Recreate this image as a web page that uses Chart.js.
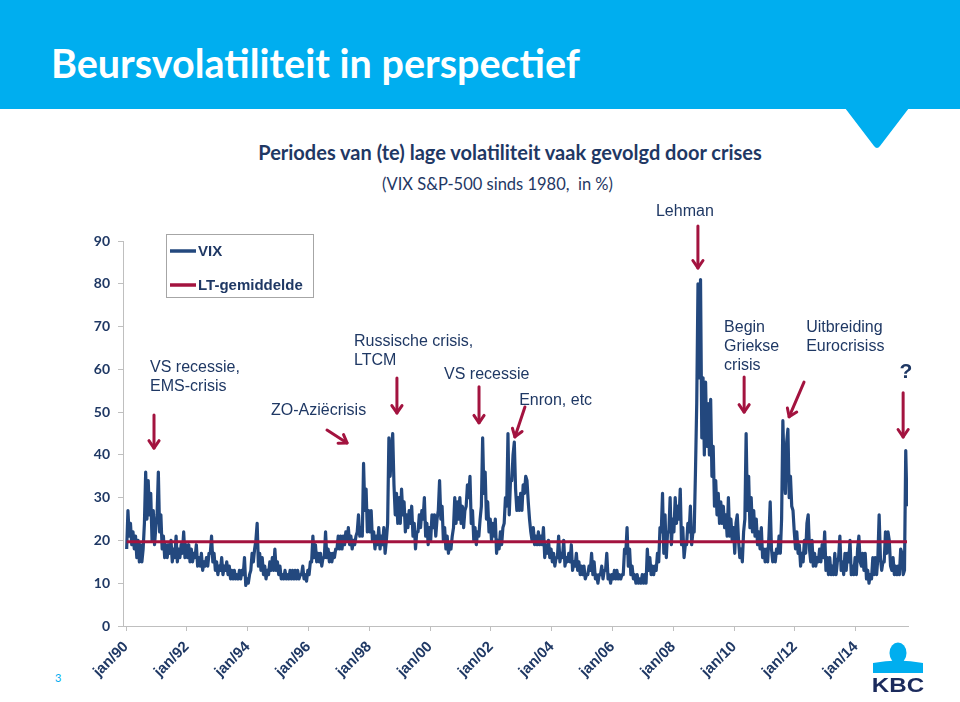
<!DOCTYPE html>
<html>
<head>
<meta charset="utf-8">
<script src="https://cdn.jsdelivr.net/npm/chart.js"></script>
<style>
  html, body { margin: 0; padding: 0; background: #fff; }
  #page { position: relative; width: 960px; height: 702px; overflow: hidden; font-family: 'Liberation Sans', Arial, sans-serif; }
  #banner { position: absolute; left: 0; top: 0; width: 960px; height: 109px; background: #00AEEF; }
  #pointer { position: absolute; left: 0; top: 0; }
  #title { position: absolute; left: 51px; top: 38px; font-family: Lato, sans-serif; font-weight: 700; font-size: 39.5px; line-height: 50px; color: #fff; white-space: nowrap; }
  #subtitle { position: absolute; left: 0; width: 1020px; top: 138px; text-align: center; font-family: Lato, sans-serif; font-weight: 700; font-size: 20px; line-height: 28px; color: #1F3864; white-space: nowrap; }
  #subsub { position: absolute; left: 0; width: 995px; top: 173px; text-align: center; font-family: Lato, sans-serif; font-size: 16.5px; line-height: 22px; color: #1F3864; white-space: nowrap; }
  #pagenr { position: absolute; left: 55px; top: 671px; font-family: Lato, sans-serif; font-size: 11px; color: #00AEEF; }
  #chart { position: absolute; left: 0; top: 0; }
  #logo { position: absolute; left: 868px; top: 640px; }
</style>
</head>
<body>
<div id="page">
  <div id="banner"></div>
  <svg id="pointer" width="960" height="160"><path d="M845 108 L909 108 L880 146 Q877 150 874 146 Z" fill="#00AEEF"/></svg>
  <div id="title">Beursvolatiliteit in perspectief</div>
  <div id="subtitle">Periodes van (te) lage volatiliteit vaak gevolgd door crises</div>
  <div id="subsub">(VIX S&amp;P-500 sinds 1980,&nbsp; in %)</div>
  <div id="pagenr">3</div>
  <canvas id="chart" width="960" height="702"></canvas>
  <svg id="logo" width="60" height="56">
    <ellipse cx="30" cy="13" rx="8.5" ry="10.5" fill="#00AEEF"/>
    <path d="M5 23 Q30 18 55 23 L55 33 L5 33 Z" fill="#00AEEF"/>
    <text x="30" y="52" text-anchor="middle" font-family="Liberation Sans, Arial" font-weight="bold" font-size="21" fill="#1B2A5C" transform="translate(30 0) scale(1.15 1) translate(-30 0)">KBC</text>
  </svg>
</div>
<script>
// VIX, two readings per month (first half, second half)
const vix1990 = [18,27, 21,24, 19,22, 18,21, 16,20, 15,19, 15,18, 24,36, 25,34, 26,31, 20,27, 19,23];
const vix1991 = [26,36, 22,26, 18,21, 16,19, 16,19, 17,20, 15,18, 16,21, 15,18, 16,19, 17,22, 16,19];
const vix1992 = [16,19, 15,18, 15,17, 16,19, 14,16, 14,17, 13,15, 14,16, 14,17, 17,21, 15,17, 13,15];
const vix1993 = [12,14, 13,16, 12,14, 13,15, 12,14, 11,13, 11,13, 11,12, 11,13, 11,13, 12,16, 9.5,11];
const vix1994 = [10,12, 13,17, 15,18, 20,24, 14,17, 13,16, 12,14, 11,13, 12,15, 13,16, 13,18, 13,15];
const vix1995 = [12,14, 11,12, 11,13, 11,12, 11,13, 11,13, 11,13, 11,13, 11,12, 12,14, 11,12, 10.5,13];
const vix1996 = [12,15, 15,21, 16,19, 15,17, 15,17, 14,16, 16,22, 16,18, 15,17, 15,17, 16,18, 18,21];
const vix1997 = [18,21, 18,21, 19,22, 20,23, 19,21, 18,20, 19,21, 22,26, 21,23, 21,38, 27,32, 22,27];
const vix1998 = [22,27, 20,22, 18,21, 19,23, 18,21, 19,23, 17,20, 24,44, 35,41, 45,33, 26,31, 24,30];
const vix1999 = [24,32, 26,29, 22,26, 23,27, 24,28, 21,24, 18,22, 22,26, 23,27, 25,30, 21,24, 19,23];
const vix2000 = [20,26, 23,26, 21,25, 27,34, 25,28, 20,23, 18,21, 17,19, 18,21, 23,30, 24,29, 25,30];
const vix2001 = [24,28, 23,27, 28,33, 30,35, 24,27, 20,23, 19,22, 21,25, 28,44, 31,36, 25,29, 22,25];
const vix2002 = [20,24, 21,25, 17,20, 18,22, 19,23, 24,30, 28,45, 26,34, 34,40, 43,32, 27,30, 27,31];
const vix2003 = [27,33, 31,35, 34,29, 25,22, 20,23, 19,21, 19,22, 19,21, 19,23, 16,19, 17,20, 16,18];
const vix2004 = [15,17, 14,16, 16,21, 15,17, 16,20, 14,16, 15,17, 15,19, 13,15, 14,17, 13,15, 12,14];
const vix2005 = [12,14, 11,12, 12,14, 13,17, 12,15, 11,12, 10,12, 12,14, 11,13, 13,17, 11,12, 10,12];
const vix2006 = [11,13, 11,13, 11,12, 11,12, 12,18, 17,23, 14,18, 12,14, 11,12, 10,12, 10,11, 10,12];
const vix2007 = [10,12, 10,18, 13,16, 12,14, 12,14, 13,17, 15,23, 22,31, 17,26, 16,22, 22,30, 19,25];
const vix2008 = [22,30, 24,28, 25,32, 19,23, 16,19, 19,24, 22,28, 19,22, 22,36, 52,80, 58,81, 44,58];
const vix2009 = [40,57, 42,52, 40,53, 35,42, 28,34, 26,31, 24,29, 24,28, 23,26, 21,30, 21,25, 20,23];
const vix2010 = [17,24, 26,20, 16,18, 15,22, 25,45, 27,35, 23,30, 22,27, 21,25, 19,22, 18,23, 16,18];
const vix2011 = [15,18, 15,21, 29,18, 15,17, 15,18, 17,21, 17,25, 48,36, 31,43, 46,30, 35,28, 27,22];
const vix2012 = [18,22, 17,19, 14,17, 15,20, 17,24, 26,18, 15,20, 14,17, 14,16, 15,18, 15,19, 16,22];
const vix2013 = [13,16, 12,16, 12,14, 12,17, 12,15, 16,21, 13,15, 12,17, 13,17, 15,20, 12,14, 12,16];
const vix2014 = [12,18, 21,15, 14,17, 13,17, 11,13, 10,12, 11,16, 12,16, 12,16, 26,16, 13,15, 15,22];
const vix2015 = [17,22, 20,14, 13,16, 12,14, 12,14, 12,18, 17,12, 13,41, 28];

const ltAverage = 19.7;
const startYear = 1990;
const pointsPerYear = 24;
const tickYears = [1990, 1992, 1994, 1996, 1998, 2000, 2002, 2004, 2006, 2008, 2010, 2012, 2014];
const tickLabels = ['jan/90', 'jan/92', 'jan/94', 'jan/96', 'jan/98', 'jan/00', 'jan/02', 'jan/04', 'jan/06', 'jan/08', 'jan/10', 'jan/12', 'jan/14'];

const vixValues = [].concat(vix1990, vix1991, vix1992, vix1993, vix1994, vix1995, vix1996, vix1997,
  vix1998, vix1999, vix2000, vix2001, vix2002, vix2003, vix2004, vix2005, vix2006, vix2007,
  vix2008, vix2009, vix2010, vix2011, vix2012, vix2013, vix2014, vix2015);
const vixPoints = vixValues.map((v, i) => ({x: startYear + (i + 0.5) / pointsPerYear, y: v}));
const avgPoints = vixPoints.map(p => ({x: p.x, y: ltAverage}));

const navy = '#1F3864';
const crimson = '#A3133F';

// annotation texts and arrows, in chart units (year, value)
const notes = [
  {lines: ['VS recessie,', 'EMS-crisis'], x: 1990.79, y: 60.3},
  {lines: ['ZO-Aziëcrisis'], x: 1994.77, y: 50.3},
  {lines: ['Russische crisis,', 'LTCM'], x: 1997.50, y: 66.6},
  {lines: ['VS recessie'], x: 2000.46, y: 58.7},
  {lines: ['Enron, etc'], x: 2002.93, y: 52.6},
  {lines: ['Lehman'], x: 2007.43, y: 96.8},
  {lines: ['Begin', 'Griekse', 'crisis'], x: 2009.67, y: 69.7},
  {lines: ['Uitbreiding', 'Eurocrisiss'], x: 2012.37, y: 69.7},
  {lines: ['?'], x: 2015.65, y: 59.4, bold: true, center: true}
];
const arrows = [
  [1990.92, 49.3, 1990.92, 41.6],
  [1996.61, 45.8, 1997.27, 42.8],
  [1998.91, 58.0, 1998.91, 49.8],
  [2001.61, 55.9, 2001.61, 47.5],
  [2003.12, 51.2, 2002.79, 44.2],
  [2008.81, 93.5, 2008.81, 83.7],
  [2010.33, 58.2, 2010.33, 50.0],
  [2012.30, 57.0, 2011.81, 48.9],
  [2015.56, 54.5, 2015.56, 44.2]
];

const notesPlugin = {
  id: 'notes',
  afterDraw(chart) {
    const ctx = chart.ctx;
    const xs = chart.scales.x, ys = chart.scales.y;
    ctx.save();
    // legend box
    ctx.fillStyle = '#fff';
    ctx.fillRect(166, 234, 147, 63);
    ctx.strokeStyle = '#A6A6A6';
    ctx.lineWidth = 1;
    ctx.strokeRect(166.5, 234.5, 147, 63);
    const items = [chart.data.datasets[0], chart.data.datasets[1]];
    items.forEach((ds, i) => {
      const y = 251 + i * 34;
      ctx.strokeStyle = ds.borderColor;
      ctx.lineWidth = 3.5;
      ctx.beginPath();
      ctx.moveTo(170, y);
      ctx.lineTo(196, y);
      ctx.stroke();
      ctx.fillStyle = navy;
      ctx.font = 'bold 15px "Liberation Sans", Arial';
      ctx.textBaseline = 'middle';
      ctx.fillText(ds.label, 198, y + 1);
    });

    notes.forEach(n => {
      const px = xs.getPixelForValue(n.x);
      const py = ys.getPixelForValue(n.y);
      ctx.fillStyle = navy;
      ctx.font = (n.bold ? 'bold 21px ' : '16px ') + '"Liberation Sans", Arial';
      ctx.textAlign = n.center ? 'center' : 'left';
      ctx.textBaseline = 'middle';
      n.lines.forEach((t, i) => ctx.fillText(t, px, py + i * 19));
    });

    ctx.strokeStyle = crimson;
    ctx.lineWidth = 3;
    ctx.lineCap = 'round';
    ctx.lineJoin = 'round';
    arrows.forEach(a => {
      const x1 = xs.getPixelForValue(a[0]), y1 = ys.getPixelForValue(a[1]);
      const x2 = xs.getPixelForValue(a[2]), y2 = ys.getPixelForValue(a[3]);
      const ang = Math.atan2(y2 - y1, x2 - x1);
      ctx.beginPath();
      ctx.moveTo(x1, y1);
      ctx.lineTo(x2, y2);
      ctx.stroke();
      ctx.beginPath();
      ctx.moveTo(x2 - 9 * Math.cos(ang - 0.6), y2 - 9 * Math.sin(ang - 0.6));
      ctx.lineTo(x2, y2);
      ctx.lineTo(x2 - 9 * Math.cos(ang + 0.6), y2 - 9 * Math.sin(ang + 0.6));
      ctx.stroke();
    });
    ctx.restore();
  }
};

new Chart(document.getElementById('chart'), {
  type: 'line',
  data: {
    datasets: [
      {label: 'VIX', data: vixPoints, borderColor: '#23487E', borderWidth: 3.2, pointRadius: 0, tension: 0, borderJoinStyle: 'round', order: 2},
      {label: 'LT-gemiddelde', data: avgPoints, borderColor: '#A3133F', borderWidth: 3, pointRadius: 0, tension: 0, order: 1}
    ]
  },
  options: {
    responsive: false,
    animation: false,
    devicePixelRatio: 1,
    layout: {padding: {left: 0, top: 241, right: 52, bottom: 10}},
    plugins: {legend: {display: false}, tooltip: {enabled: false}, title: {display: false}},
    scales: {
      x: {
        type: 'linear',
        min: 1989.9,
        max: 2015.72,
        afterBuildTicks: s => { s.ticks = tickYears.map(v => ({value: v})); },
        afterFit: s => { s.height = 66; s.paddingLeft = 0; s.paddingRight = 0; },
        ticks: {
          autoSkip: false,
          minRotation: 45,
          maxRotation: 45,
          padding: 7,
          color: navy,
          font: {family: '"Liberation Sans", Arial', size: 15, weight: 'bold'},
          callback: v => tickLabels[tickYears.indexOf(v)]
        },
        grid: {drawOnChartArea: false, tickLength: 5, color: '#BFBFBF'},
        border: {color: '#BFBFBF'}
      },
      y: {
        min: 0,
        max: 90,
        afterFit: s => { s.width = 123; s.paddingTop = 0; s.paddingBottom = 0; },
        ticks: {
          stepSize: 10,
          padding: 8,
          color: navy,
          font: {family: 'Lato', size: 14, weight: 'bold'}
        },
        grid: {drawOnChartArea: false, tickLength: 5, color: '#BFBFBF'},
        border: {color: '#BFBFBF'}
      }
    }
  },
  plugins: [notesPlugin]
});
</script>
</body>
</html>
